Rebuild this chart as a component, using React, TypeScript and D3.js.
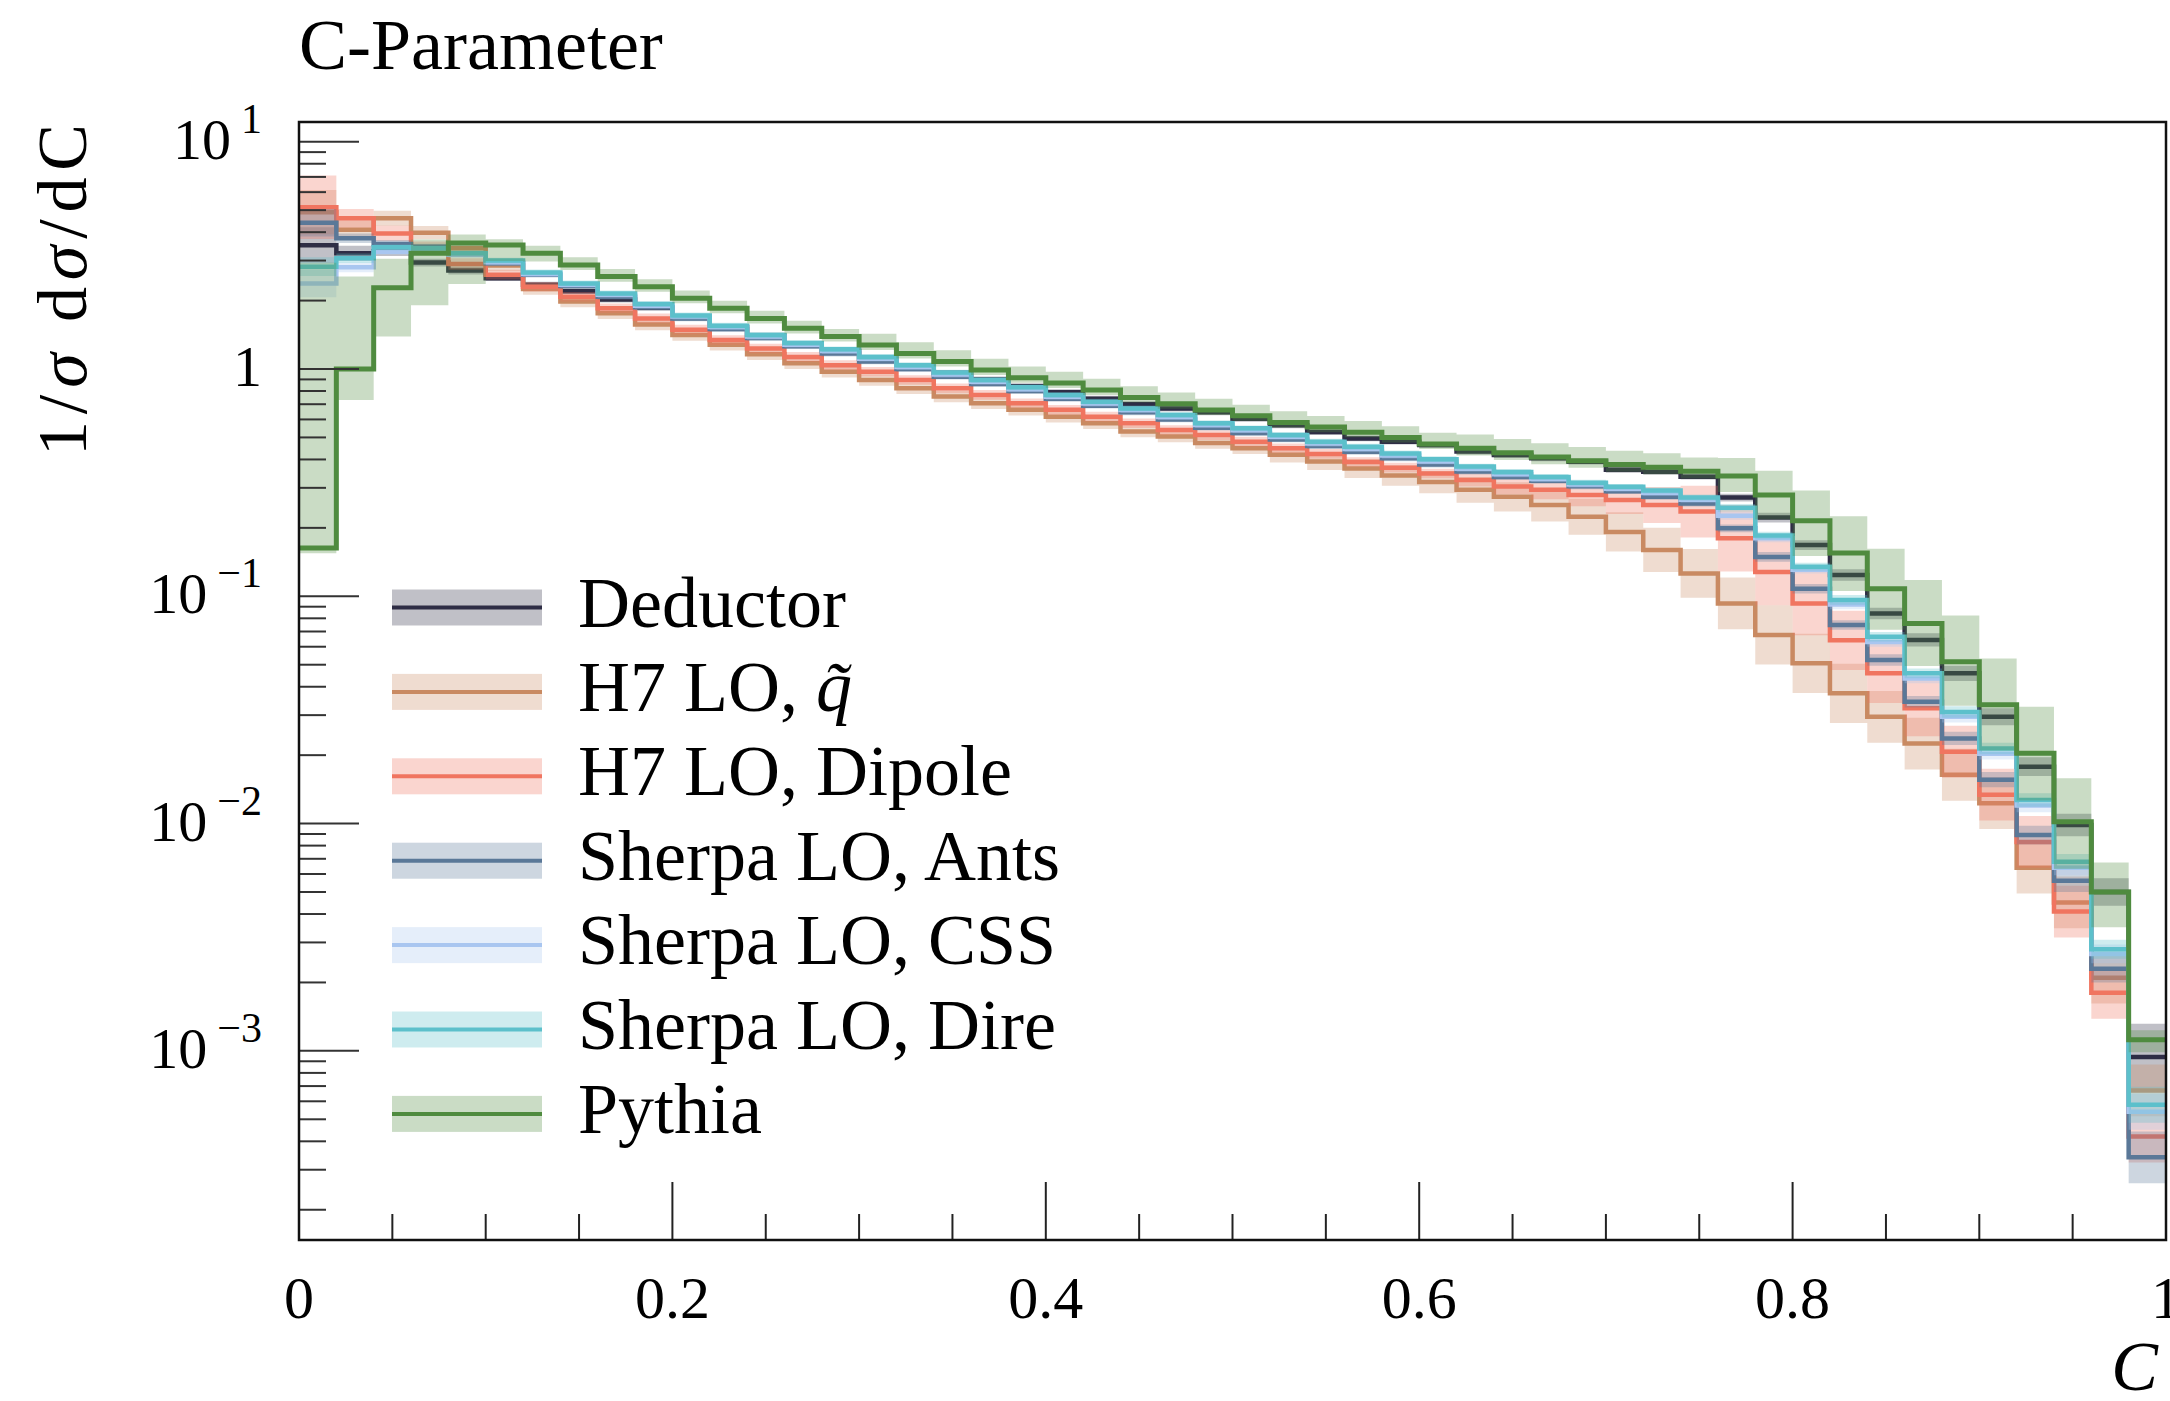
import React from 'react';
import * as d3 from 'd3';

// ---------------- data ----------------
const binEdges = [0, 0.02, 0.04, 0.06, 0.08, 0.1, 0.12, 0.14, 0.16, 0.18, 0.2, 0.22, 0.24, 0.26, 0.28, 0.3, 0.32, 0.34, 0.36, 0.38, 0.4, 0.42, 0.44, 0.46, 0.48, 0.5, 0.52, 0.54, 0.56, 0.58, 0.6, 0.62, 0.64, 0.66, 0.68, 0.7, 0.72, 0.74, 0.76, 0.78, 0.8, 0.82, 0.84, 0.86, 0.88, 0.9, 0.92, 0.94, 0.96, 0.98, 1.0];

const seriesNames = ['Deductor', 'H7 LO, q\u0303', 'H7 LO, Dipole', 'Sherpa LO, Ants', 'Sherpa LO, CSS', 'Sherpa LO, Dire', 'Pythia'];
const seriesColors = ['#2e2d45', '#c98a62', '#f07560', '#5a7898', '#a9c6f0', '#5cc0cb', '#4f8b3f'];

const deductor = [3.5, 3.23, 3.3, 2.94, 2.71, 2.51, 2.35, 2.2, 2.02, 1.86, 1.68, 1.53, 1.4, 1.29, 1.2, 1.11, 1.03, 0.96, 0.9, 0.84, 0.79, 0.74, 0.7, 0.67, 0.645, 0.604, 0.565, 0.528, 0.495, 0.479, 0.463, 0.433, 0.418, 0.405, 0.391, 0.36, 0.353, 0.336, 0.272, 0.222, 0.168, 0.124, 0.0841, 0.0643, 0.0458, 0.0295, 0.0178, 0.00986, 0.005, 0.00094];
const h7qtilde = [4.9, 4.1, 4.6, 3.98, 3.4, 2.85, 2.25, 1.98, 1.76, 1.57, 1.41, 1.28, 1.16, 1.06, 0.973, 0.895, 0.822, 0.757, 0.707, 0.661, 0.617, 0.577, 0.531, 0.505, 0.472, 0.448, 0.419, 0.392, 0.365, 0.34, 0.318, 0.294, 0.274, 0.252, 0.224, 0.192, 0.16, 0.126, 0.093, 0.0676, 0.0507, 0.0374, 0.0295, 0.0225, 0.0164, 0.0123, 0.0064, 0.0045, 0.0021, 0.00067];
const h7dipole = [5.15, 4.6, 3.95, 3.4, 2.9, 2.6, 2.3, 2.08, 1.85, 1.67, 1.49, 1.34, 1.23, 1.13, 1.04, 0.973, 0.895, 0.822, 0.769, 0.707, 0.661, 0.617, 0.577, 0.539, 0.512, 0.479, 0.448, 0.423, 0.39, 0.368, 0.347, 0.325, 0.304, 0.294, 0.279, 0.265, 0.252, 0.236, 0.18, 0.128, 0.093, 0.064, 0.0458, 0.0322, 0.0207, 0.0134, 0.0083, 0.0041, 0.0018, 0.00042];
const sherpaAnts = [4.4, 3.76, 3.55, 3.45, 3.2, 2.92, 2.6, 2.32, 2.08, 1.87, 1.67, 1.5, 1.37, 1.26, 1.17, 1.08, 1.0, 0.925, 0.86, 0.8, 0.74, 0.69, 0.645, 0.6, 0.552, 0.523, 0.49, 0.458, 0.432, 0.405, 0.38, 0.354, 0.335, 0.322, 0.305, 0.29, 0.274, 0.256, 0.199, 0.149, 0.108, 0.0748, 0.0525, 0.0344, 0.0237, 0.0156, 0.0089, 0.0056, 0.0023, 0.00034];
const sherpaCSS = [2.38, 2.8, 3.28, 3.35, 3.18, 2.95, 2.62, 2.35, 2.12, 1.9, 1.7, 1.53, 1.39, 1.28, 1.2, 1.11, 1.02, 0.945, 0.878, 0.815, 0.755, 0.705, 0.66, 0.615, 0.567, 0.538, 0.503, 0.47, 0.445, 0.416, 0.392, 0.364, 0.344, 0.328, 0.31, 0.297, 0.285, 0.266, 0.226, 0.18, 0.131, 0.092, 0.063, 0.0435, 0.0295, 0.0203, 0.012, 0.0064, 0.00267, 0.00054];
const sherpaDire = [2.82, 3.07, 3.43, 3.4, 3.23, 3.0, 2.66, 2.38, 2.15, 1.93, 1.72, 1.55, 1.41, 1.3, 1.22, 1.13, 1.04, 0.964, 0.895, 0.831, 0.769, 0.718, 0.671, 0.628, 0.577, 0.548, 0.512, 0.479, 0.455, 0.425, 0.401, 0.372, 0.352, 0.335, 0.316, 0.303, 0.292, 0.272, 0.245, 0.185, 0.135, 0.0964, 0.0664, 0.0458, 0.031, 0.0214, 0.0127, 0.0068, 0.0028, 0.00058];
const pythia = [0.163, 1.0, 2.28, 3.23, 3.58, 3.51, 3.23, 2.87, 2.55, 2.3, 2.05, 1.85, 1.67, 1.51, 1.39, 1.275, 1.17, 1.08, 0.99, 0.915, 0.868, 0.809, 0.75, 0.704, 0.66, 0.622, 0.582, 0.555, 0.527, 0.5, 0.468, 0.448, 0.428, 0.41, 0.395, 0.38, 0.37, 0.355, 0.338, 0.279, 0.215, 0.155, 0.108, 0.076, 0.0515, 0.0333, 0.0204, 0.0102, 0.005, 0.00112];

// relative band half-widths (fraction)
const deductorErr = [0.2, 0.08, 0.05, 0.04, 0.04, 0.03, 0.03, 0.03, 0.03, 0.03, 0.03, 0.03, 0.03, 0.03, 0.03, 0.03, 0.03, 0.03, 0.03, 0.03, 0.03, 0.03, 0.03, 0.03, 0.03, 0.03, 0.03, 0.03, 0.03, 0.03, 0.03, 0.03, 0.03, 0.03, 0.03, 0.03, 0.03, 0.03, 0.04, 0.05, 0.05, 0.06, 0.06, 0.07, 0.08, 0.09, 0.1, 0.12, 0.15, 0.4];
const h7qtildeErr = [0.25, 0.1, 0.08, 0.07, 0.07, 0.06, 0.06, 0.06, 0.06, 0.06, 0.06, 0.06, 0.06, 0.06, 0.06, 0.06, 0.06, 0.06, 0.06, 0.06, 0.06, 0.06, 0.06, 0.06, 0.06, 0.06, 0.08, 0.09, 0.1, 0.11, 0.12, 0.14, 0.16, 0.18, 0.2, 0.22, 0.25, 0.28, 0.3, 0.35, 0.35, 0.35, 0.3, 0.3, 0.3, 0.3, 0.3, 0.3, 0.3, 0.3];
const h7dipoleErr = [0.38, 0.1, 0.08, 0.07, 0.06, 0.05, 0.05, 0.05, 0.05, 0.05, 0.05, 0.05, 0.05, 0.05, 0.05, 0.05, 0.05, 0.05, 0.05, 0.05, 0.05, 0.05, 0.05, 0.05, 0.05, 0.05, 0.05, 0.05, 0.05, 0.05, 0.05, 0.07, 0.08, 0.1, 0.12, 0.15, 0.2, 0.3, 0.4, 0.4, 0.38, 0.35, 0.35, 0.33, 0.3, 0.3, 0.3, 0.3, 0.3, 0.3];
const sherpaAntsErr = [0.15, 0.05, 0.04, 0.03, 0.03, 0.03, 0.03, 0.03, 0.03, 0.03, 0.03, 0.03, 0.03, 0.03, 0.03, 0.03, 0.03, 0.03, 0.03, 0.03, 0.03, 0.03, 0.03, 0.03, 0.03, 0.03, 0.03, 0.03, 0.03, 0.03, 0.03, 0.03, 0.03, 0.03, 0.03, 0.03, 0.03, 0.03, 0.04, 0.05, 0.05, 0.05, 0.06, 0.06, 0.07, 0.08, 0.1, 0.12, 0.15, 0.3];
const sherpaCSSErr = [0.15, 0.05, 0.03, 0.03, 0.03, 0.03, 0.03, 0.03, 0.03, 0.03, 0.03, 0.03, 0.03, 0.03, 0.03, 0.03, 0.03, 0.03, 0.03, 0.03, 0.03, 0.03, 0.03, 0.03, 0.03, 0.03, 0.03, 0.03, 0.03, 0.03, 0.03, 0.03, 0.03, 0.03, 0.03, 0.03, 0.03, 0.03, 0.04, 0.04, 0.04, 0.05, 0.05, 0.05, 0.06, 0.06, 0.07, 0.08, 0.1, 0.2];
const sherpaDireErr = [0.1, 0.05, 0.03, 0.03, 0.03, 0.03, 0.03, 0.03, 0.03, 0.03, 0.03, 0.03, 0.03, 0.03, 0.03, 0.03, 0.03, 0.03, 0.03, 0.03, 0.03, 0.03, 0.03, 0.03, 0.03, 0.03, 0.03, 0.03, 0.03, 0.03, 0.03, 0.03, 0.03, 0.03, 0.03, 0.03, 0.03, 0.03, 0.04, 0.04, 0.04, 0.05, 0.05, 0.05, 0.06, 0.06, 0.07, 0.08, 0.1, 0.2];
// Pythia band is asymmetric: multiplicative upper / lower factors
const pythiaUp = [18, 2.55, 1.34, 1.15, 1.09, 1.06, 1.08, 1.08, 1.08, 1.08, 1.08, 1.08, 1.08, 1.08, 1.08, 1.12, 1.12, 1.12, 1.12, 1.12, 1.12, 1.12, 1.12, 1.12, 1.12, 1.12, 1.12, 1.12, 1.12, 1.12, 1.12, 1.15, 1.15, 1.15, 1.15, 1.15, 1.15, 1.15, 1.2, 1.28, 1.36, 1.45, 1.5, 1.55, 1.6, 1.6, 1.6, 1.55, 1.35, 1.1];
const pythiaDown = [0.95, 0.73, 0.61, 0.59, 0.66, 0.85, 0.92, 0.95, 0.95, 0.95, 0.95, 0.95, 0.95, 0.95, 0.95, 0.95, 0.95, 0.95, 0.95, 0.95, 0.95, 0.95, 0.95, 0.95, 0.95, 0.95, 0.95, 0.95, 0.95, 0.95, 0.95, 0.93, 0.93, 0.93, 0.93, 0.93, 0.93, 0.93, 0.85, 0.78, 0.7, 0.68, 0.66, 0.65, 0.64, 0.63, 0.62, 0.62, 0.7, 0.88];

const xTickValues = [0, 0.2, 0.4, 0.6, 0.8, 1];
const xTickLabels = ['0', '0.2', '0.4', '0.6', '0.8', '1'];
const yTickValues = [10, 1, 0.1, 0.01, 0.001];
const yTickBases = ['10', '1', '10', '10', '10'];
const yTickExps = ['1', '', '\u22121', '\u22122', '\u22123'];

// ---------------- layout ----------------
const W = 2170;
const H = 1401;
const PL = 299, PR = 2166, PT = 122, PB = 1240;
const FONT = '"Liberation Serif", "DejaVu Serif", serif';

export default function App() {
  const x = d3.scaleLinear().domain([0, 1]).range([PL, PR]);
  const y = d3.scaleLog().domain([1.472e-4, 12.21]).range([PB, PT]);

  const values = [deductor, h7qtilde, h7dipole, sherpaAnts, sherpaCSS, sherpaDire, pythia];
  const errs = [deductorErr, h7qtildeErr, h7dipoleErr, sherpaAntsErr, sherpaCSSErr, sherpaDireErr, null];

  const line = d3.line<[number, number]>().x(d => x(d[0])).y(d => y(d[1])).curve(d3.curveStepAfter);
  const area = d3.area<{ e: number; lo: number; hi: number }>()
    .x(d => x(d.e)).y0(d => y(d.lo)).y1(d => y(d.hi)).curve(d3.curveStepAfter);

  const series = values.map((vals, s) => {
    const pts: [number, number][] = binEdges.map((e, i) => [e, vals[Math.min(i, vals.length - 1)]]);
    const band = binEdges.map((e, i) => {
      const k = Math.min(i, vals.length - 1);
      const v = vals[k];
      const er = errs[s];
      if (er) return { e, lo: v / (1 + er[k]), hi: v * (1 + er[k]) };
      return { e, lo: v * pythiaDown[k], hi: v * pythiaUp[k] };
    });
    return { name: seriesNames[s], color: seriesColors[s], path: line(pts) || '', bandPath: area(band) || '' };
  });

  const yTicks = y.ticks();
  const xTicks = x.ticks(20);
  const isMajorY = (v: number) => Math.abs(Math.log10(v) - Math.round(Math.log10(v))) < 1e-6;
  const isMajorX = (v: number) => Math.abs(v * 5 - Math.round(v * 5)) < 1e-6;

  const legendY0 = 607.5;
  const legendStep = 84.4;

  return (
    <svg width={W} height={H} viewBox={`0 0 ${W} ${H}`}
      style={{ position: 'absolute', left: 0, top: 0, background: '#fff' }}
      fontFamily={FONT}>
      <rect x={0} y={0} width={W} height={H} fill="#fff" />
      <defs>
        <clipPath id="plotClip">
          <rect x={PL} y={PT} width={PR - PL} height={PB - PT} />
        </clipPath>
      </defs>

      {/* title */}
      <text x={PL} y={69} fontSize={72} fill="#000">C-Parameter</text>

      {/* series */}
      <g clipPath="url(#plotClip)">
        {series.map((s, i) => (
          <g key={i}>
            <path d={s.bandPath} fill={s.color} fillOpacity={0.3} stroke="none" />
            <path d={s.path} fill="none" stroke={s.color} strokeWidth={i === 6 ? 5 : 4.5} />
          </g>
        ))}
      </g>

      {/* y ticks */}
      {yTicks.filter(v => y(v) >= PT - 0.5 && y(v) <= PB + 0.5).map((v, i) => (
        <line key={'yt' + i} x1={PL} x2={PL + (isMajorY(v) ? 60 : 27)} y1={y(v)} y2={y(v)}
          stroke="#333" strokeWidth={2} />
      ))}
      {/* x ticks */}
      {xTicks.map((v, i) => (
        <line key={'xt' + i} x1={x(v)} x2={x(v)} y1={PB} y2={PB - (isMajorX(v) ? 58 : 26)}
          stroke="#222" strokeWidth={2} />
      ))}

      {/* frame */}
      <rect x={PL} y={PT} width={PR - PL} height={PB - PT} fill="none" stroke="#111" strokeWidth={2.5} />

      {/* x tick labels */}
      {xTickValues.map((v, i) => (
        <text key={'xl' + i} x={x(v)} y={1318} fontSize={60} textAnchor="middle" fill="#000">{xTickLabels[i]}</text>
      ))}

      {/* y tick labels */}
      {yTickValues.map((v, i) => (
        <text key={'yl' + i} x={262} y={y(v) + 17} fontSize={58} textAnchor="end" fill="#000">
          {yTickBases[i]}
          {yTickExps[i] !== '' && (
            <tspan dx={10} dy={-26} fontSize={42}>{yTickExps[i]}</tspan>
          )}
        </text>
      ))}

      {/* axis labels */}
      <text transform={`translate(86, ${PT + 2}) rotate(-90)`} textAnchor="end" fontSize={70} fill="#000"
        textLength={332} lengthAdjust="spacing">
        1/<tspan fontStyle="italic">σ</tspan> d<tspan fontStyle="italic">σ</tspan>/dC
      </text>
      <text x={PR - 8} y={1390} fontSize={70} fontStyle="italic" textAnchor="end" fill="#000">C</text>

      {/* legend */}
      {series.map((s, i) => {
        const cy = legendY0 + i * legendStep;
        return (
          <g key={'lg' + i}>
            <rect x={392} y={cy - 18} width={150} height={36} fill={s.color} fillOpacity={0.3} />
            <line x1={392} x2={542} y1={cy} y2={cy} stroke={s.color} strokeWidth={4} />
            <text x={578} y={cy + 19} fontSize={72} fill="#000">
              {i === 1 ? (
                <>H7 LO, <tspan fontStyle="italic">q̃</tspan></>
              ) : s.name}
            </text>
          </g>
        );
      })}
    </svg>
  );
}
